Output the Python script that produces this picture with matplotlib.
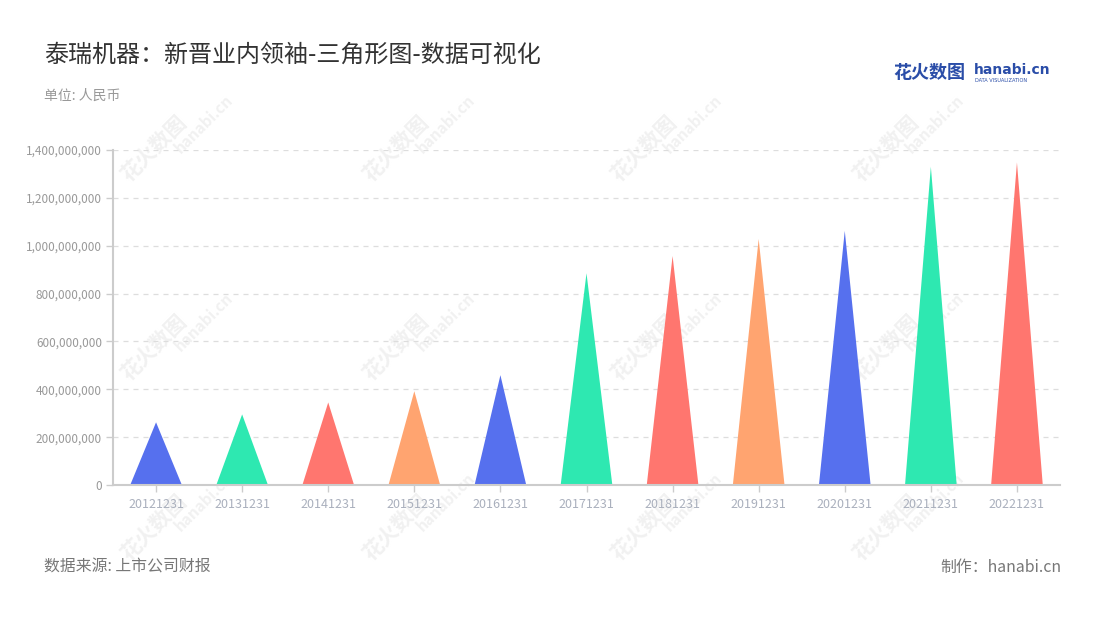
import matplotlib.pyplot as plt
from matplotlib.ticker import FuncFormatter, MultipleLocator

plt.rcParams['font.family'] = ['Noto Sans CJK SC', 'DejaVu Sans']

dates = ['20121231', '20131231', '20141231', '20151231', '20161231', '20171231',
         '20181231', '20191231', '20201231', '20211231', '20221231']
values = [262e6, 295e6, 345e6, 392e6, 459e6, 885e6,
          957e6, 1028e6, 1062e6, 1330e6, 1348e6]
palette = ['#5670ee', '#2ee8b1', '#ff766f', '#ffa470']

title = '泰瑞机器：新晋业内领袖-三角形图-数据可视化'
unit = '单位: 人民币'
source = '数据来源: 上市公司财报'
maker = '制作：hanabi.cn'

fig = plt.figure(figsize=(11, 6.2), dpi=100)
fig.patch.set_facecolor('white')

# faint watermarks behind everything
for wx in [0.14, 0.36, 0.585, 0.805]:
    for wy in [0.76, 0.44, 0.15]:
        fig.text(wx, wy, '花火数图', fontsize=15, color='#f1f1f1', rotation=45,
                 ha='center', va='center', fontweight='bold', zorder=0)
        fig.text(wx + 0.045, wy + 0.04, 'hanabi.cn', fontsize=11, color='#f1f1f1',
                 rotation=45, ha='center', va='center', fontweight='bold', zorder=0)

ax = fig.add_axes([113 / 1100, 1 - 485 / 620, 947 / 1100, 335 / 620])
ax.set_zorder(2)
ax.patch.set_alpha(0)

half = 0.3
for i, v in enumerate(values):
    ax.fill([i - half, i, i + half], [0, v, 0], color=palette[i % 4],
            linewidth=0, zorder=3)

ax.set_xlim(-0.5, len(dates) - 0.5)
ax.set_ylim(0, 1.4e9)
ax.set_xticks(range(len(dates)))
ax.set_xticklabels(dates)
ax.yaxis.set_major_locator(MultipleLocator(2e8))
ax.yaxis.set_major_formatter(FuncFormatter(lambda x, p: f'{int(x):,}'))

ax.grid(axis='y', color='#dddddd', linestyle=(0, (4, 4)), linewidth=0.9, zorder=0)
for s in ['top', 'right']:
    ax.spines[s].set_visible(False)
for s in ['left', 'bottom']:
    ax.spines[s].set_color('#cccccc')
    ax.spines[s].set_linewidth(1.5)
    ax.spines[s].set_zorder(4)
ax.tick_params(axis='y', colors='#cccccc', labelcolor='#999999', labelsize=8.5,
               length=5, width=1, pad=3)
ax.tick_params(axis='x', colors='#cccccc', labelcolor='#aab0bd', labelsize=9,
               length=5, width=1, pad=4)

fig.text(44 / 1100, 1 - 55 / 620, title, fontsize=17.3, color='#333333',
         ha='left', va='center')
fig.text(44 / 1100, 1 - 96 / 620, unit, fontsize=10, color='#999999',
         ha='left', va='center')
fig.text(44 / 1100, 1 - 567 / 620, source, fontsize=11.4, color='#777777',
         ha='left', va='center')
fig.text(1061 / 1100, 1 - 567 / 620, maker, fontsize=11.4, color='#777777',
         ha='right', va='center')

# logo
fig.text(893 / 1100, 1 - 73 / 620, '花火数图', fontsize=13, color='#2a4da8',
         ha='left', va='center', fontweight='bold')
fig.text(974 / 1100, 1 - 70 / 620, 'hanabi.cn', fontsize=10, color='#2a4da8',
         ha='left', va='center', fontweight='bold', family='DejaVu Sans')
fig.text(975 / 1100, 1 - 80 / 620, 'DATA VISUALIZATION', fontsize=3.6,
         color='#2a4da8', ha='left', va='center', family='DejaVu Sans')

fig.savefig('out.png', dpi=100, facecolor='white')
